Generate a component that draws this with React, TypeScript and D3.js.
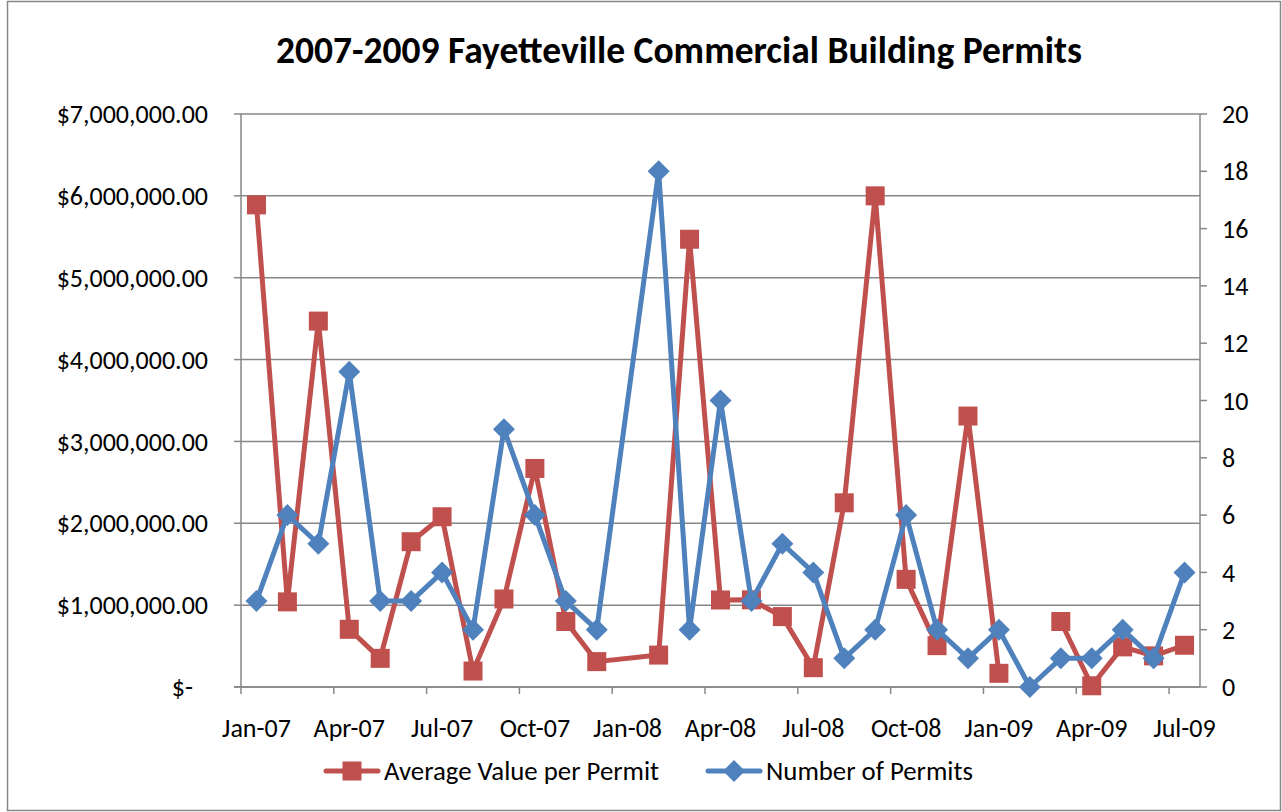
import React from "react";
import * as d3 from "d3";

const allMonths = [
  "Jan-07","Feb-07","Mar-07","Apr-07","May-07","Jun-07","Jul-07","Aug-07","Sep-07","Oct-07","Nov-07","Dec-07",
  "Jan-08","Feb-08","Mar-08","Apr-08","May-08","Jun-08","Jul-08","Aug-08","Sep-08","Oct-08","Nov-08","Dec-08",
  "Jan-09","Feb-09","Mar-09","Apr-09","May-09","Jun-09","Jul-09",
];
// months that have a data row (Jan-08 has none)
const dataMonths = [
  "Jan-07","Feb-07","Mar-07","Apr-07","May-07","Jun-07","Jul-07","Aug-07","Sep-07","Oct-07","Nov-07","Dec-07",
  "Feb-08","Mar-08","Apr-08","May-08","Jun-08","Jul-08","Aug-08","Sep-08","Oct-08","Nov-08","Dec-08",
  "Jan-09","Feb-09","Mar-09","Apr-09","May-09","Jun-09","Jul-09",
];
const avgValue: (number | null)[] = [
  5890000, 1040000, 4470000, 705000, 350000, 1775000, 2080000, 195000, 1075000, 2670000, 800000, 310000,
  390000, 5470000, 1063000, 1065000, 860000, 236000, 2250000, 6000000, 1315000, 505000, 3310000,
  167000, null, 800000, 15000, 490000, 380000, 510000,
];
const permits: number[] = [
  3, 6, 5, 11, 3, 3, 4, 2, 9, 6, 3, 2,
  18, 2, 10, 3, 5, 4, 1, 2, 6, 2, 1,
  2, 0, 1, 1, 2, 1, 4,
];
const xTickLabels = ["Jan-07","Apr-07","Jul-07","Oct-07","Jan-08","Apr-08","Jul-08","Oct-08","Jan-09","Apr-09","Jul-09"];
const leftTicks = [0, 1000000, 2000000, 3000000, 4000000, 5000000, 6000000, 7000000];
const rightTicks = [0, 2, 4, 6, 8, 10, 12, 14, 16, 18, 20];

const title = "2007-2009 Fayetteville Commercial Building Permits";
const seriesNames = ["Average Value per Permit", "Number of Permits"];
const RED = "#C0504D";
const BLUE = "#4F81BD";
const GRID = "#878787";
const FONT = "Carlito, Lato, 'Open Sans', sans-serif";

const W = 1282, H = 812;
const L = 241, R = 1200, T = 114, B = 687;
const FS = 26;

export default function App() {
  const x = d3.scaleBand<string>().domain(allMonths).range([L, R]).padding(0);
  const cx = (m: string) => (x(m) as number) + x.bandwidth() / 2;
  const yL = d3.scaleLinear().domain([0, 7000000]).range([B, T]);
  const yR = d3.scaleLinear().domain([0, 20]).range([B, T]);

  const redPts = dataMonths.map((m, i) => ({ m, v: avgValue[i] }));
  const bluePts = dataMonths.map((m, i) => ({ m, v: permits[i] }));

  const redLine = d3.line<{ m: string; v: number | null }>()
    .defined((d) => d.v != null)
    .x((d) => cx(d.m))
    .y((d) => yL(d.v as number));
  const blueLine = d3.line<{ m: string; v: number }>()
    .x((d) => cx(d.m))
    .y((d) => yR(d.v));

  const fmt = (v: number) => (v === 0 ? "$-" : "$" + d3.format(",.2f")(v));
  const tickIdx = allMonths.map((_, i) => i).filter((i) => i % 3 === 0);

  const sq = 19;
  const diamond = (px: number, py: number, s = 11) =>
    `M${px},${py - s}L${px + s},${py}L${px},${py + s}L${px - s},${py}Z`;

  return (
    <svg width={W} height={H} style={{ position: "absolute", left: 0, top: 0, background: "#fff" }} fontFamily={FONT}>
      <rect x={0} y={0} width={W} height={H} fill="#fff" />
      <rect x={7.5} y={1.5} width={W - 9} height={H - 3} fill="none" stroke="#878787" strokeWidth={1.5} />
      <text x={679} y={63} textAnchor="middle" fontSize={37.5} fontWeight="bold" fill="#000">{title}</text>

      {/* gridlines */}
      {leftTicks.map((t) => (
        <line key={"g" + t} x1={L} x2={R} y1={yL(t)} y2={yL(t)} stroke={GRID} strokeWidth={1.5} />
      ))}
      {/* axes */}
      <line x1={L} x2={L} y1={T} y2={B} stroke={GRID} strokeWidth={1.5} />
      <line x1={R} x2={R} y1={T} y2={B} stroke={GRID} strokeWidth={1.5} />
      <line x1={L - 7} x2={R} y1={B} y2={B} stroke={GRID} strokeWidth={1.5} />
      {leftTicks.map((t) => (
        <g key={"l" + t}>
          <line x1={L - 7} x2={L} y1={yL(t)} y2={yL(t)} stroke={GRID} strokeWidth={1.5} />
          <text x={t === 0 ? 193 : 208} y={yL(t)} dy="0.35em" textAnchor="end" fontSize={FS} fill="#000">{fmt(t)}</text>
        </g>
      ))}
      {rightTicks.map((t) => (
        <g key={"r" + t}>
          <line x1={R} x2={R + 7} y1={yR(t)} y2={yR(t)} stroke={GRID} strokeWidth={1.5} />
          <text x={1222} y={yR(t)} dy="0.35em" textAnchor="start" fontSize={FS} fill="#000">{t}</text>
        </g>
      ))}
      {tickIdx.map((i) => (
        <line key={"xt" + i} x1={x(allMonths[i]) as number} x2={x(allMonths[i]) as number} y1={B} y2={B + 7} stroke={GRID} strokeWidth={1.5} />
      ))}
      {xTickLabels.map((m) => (
        <text key={"xl" + m} x={cx(m)} y={737} textAnchor="middle" fontSize={FS} fill="#000">{m}</text>
      ))}

      {/* series 1 */}
      <path d={redLine(redPts) || ""} fill="none" stroke={RED} strokeWidth={5} strokeLinejoin="round" strokeLinecap="round" />
      {redPts.filter((d) => d.v != null).map((d) => (
        <rect key={"rm" + d.m} x={cx(d.m) - sq / 2} y={yL(d.v as number) - sq / 2} width={sq} height={sq} fill={RED} />
      ))}
      {/* series 2 */}
      <path d={blueLine(bluePts) || ""} fill="none" stroke={BLUE} strokeWidth={5} strokeLinejoin="round" strokeLinecap="round" />
      {bluePts.map((d) => (
        <path key={"bm" + d.m} d={diamond(cx(d.m), yR(d.v))} fill={BLUE} />
      ))}

      {/* legend */}
      <g>
        <line x1={326} x2={378} y1={771} y2={771} stroke={RED} strokeWidth={5} strokeLinecap="round" />
        <rect x={352 - sq / 2} y={771 - sq / 2} width={sq} height={sq} fill={RED} />
        <text x={384} y={771} dy="0.35em" fontSize={26.8} fill="#000">{seriesNames[0]}</text>
        <line x1={708} x2={760} y1={771} y2={771} stroke={BLUE} strokeWidth={5} strokeLinecap="round" />
        <path d={diamond(734, 771)} fill={BLUE} />
        <text x={766} y={771} dy="0.35em" fontSize={26.8} fill="#000">{seriesNames[1]}</text>
      </g>
    </svg>
  );
}
